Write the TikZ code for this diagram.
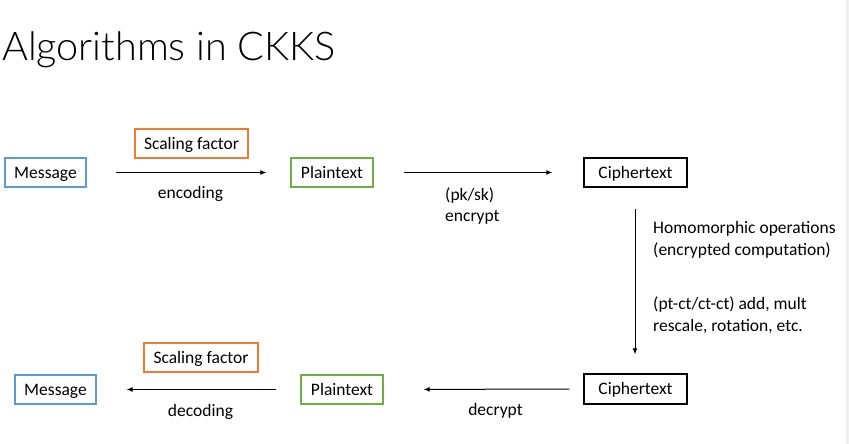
\documentclass[tikz,border=0pt]{standalone}
\usepackage{fontspec}
\setmainfont{Carlito}
\newfontfamily\titlefont{Lato}[UprightFont={* Light}]
\usetikzlibrary{arrows.meta}
\definecolor{boxblue}{HTML}{5B9BD5}
\definecolor{boxorange}{HTML}{ED7D31}
\definecolor{boxgreen}{HTML}{70AD47}
\definecolor{edgegray}{HTML}{F0F0F0}
\tikzset{
  box/.style={draw, line width=1.2pt, minimum height=29pt, inner sep=0pt, text height=11.3pt, text depth=0pt, font=\fontsize{17.5}{22}\selectfont},
  lbl/.style={inner sep=0pt, anchor=base, font=\fontsize{17.5}{22}\selectfont},
  lbll/.style={inner sep=0pt, anchor=base west, font=\fontsize{17.5}{22}\selectfont},
  conn/.style={line width=1pt, -{Latex[length=6pt,width=5pt]}},
}
\begin{document}
\begin{tikzpicture}[x=1pt,y=-1pt]
\fill[white] (0,0) rectangle (849,444);
\fill[edgegray] (846,0) rectangle (849,444);
\useasboundingbox (0,0) rectangle (849,444);

\node[inner sep=0pt, anchor=base west, font=\titlefont\fontsize{39.6}{45}\selectfont] (title) at (2,61) {Algorithms in CKKS};

% top row
\node[box, draw=boxblue, minimum width=81pt] (msg1) at (45.5,172.5) {Message};
\node[box, draw=boxorange, minimum width=113pt] (sf1) at (191.5,143.5) {Scaling factor};
\node[box, draw=boxgreen, minimum width=82pt] (pt1) at (332,172.5) {Plaintext};
\node[box, draw=black, minimum width=103pt] (ct1) at (635.5,172.5) {Ciphertext};

% bottom row
\node[box, draw=black, minimum width=103pt, minimum height=30pt] (ct2) at (635.5,389) {Ciphertext};
\node[box, draw=boxgreen, minimum width=82pt] (pt2) at (342,389.5) {Plaintext};
\node[box, draw=boxorange, minimum width=114pt] (sf2) at (201,357.5) {Scaling factor};
\node[box, draw=boxblue, minimum width=81pt] (msg2) at (55.5,389.5) {Message};

% connectors
\draw[conn, shorten <=29pt, shorten >=24pt] (msg1.east) -- (pt1.west);
\draw[conn, shorten <=30pt, shorten >=31pt] (pt1.east) -- (ct1.west);
\draw[conn, shorten <=21pt, shorten >=19pt] ([xshift=-0.5pt]ct1.south) -- ([xshift=-0.5pt]ct2.north);
\draw[conn, shorten <=14pt, shorten >=40pt] (ct2.west) -- (pt2.east);
\draw[conn, shorten <=24pt, shorten >=30pt] (pt2.west) -- (msg2.east);

% labels
\node[lbl] (enc) at (190.5,198.5) {encoding};
\node[lbll] (encr1) at (445,200) {(pk/sk)};
\node[lbll] (encr2) at (445,221) {encrypt};
\node[lbll] (hom1) at (653,233) {Homomorphic operations};
\node[lbll] (hom2) at (653,255) {(encrypted computation)};
\node[lbll] (hom3) at (653,309.5) {(pt-ct/ct-ct) add, mult};
\node[lbll] (hom4) at (653,331.5) {rescale, rotation, etc.};
\node[lbl] (decr) at (495.5,415.5) {decrypt};
\node[lbl] (dec) at (200.5,416) {decoding};
\end{tikzpicture}
\end{document}
